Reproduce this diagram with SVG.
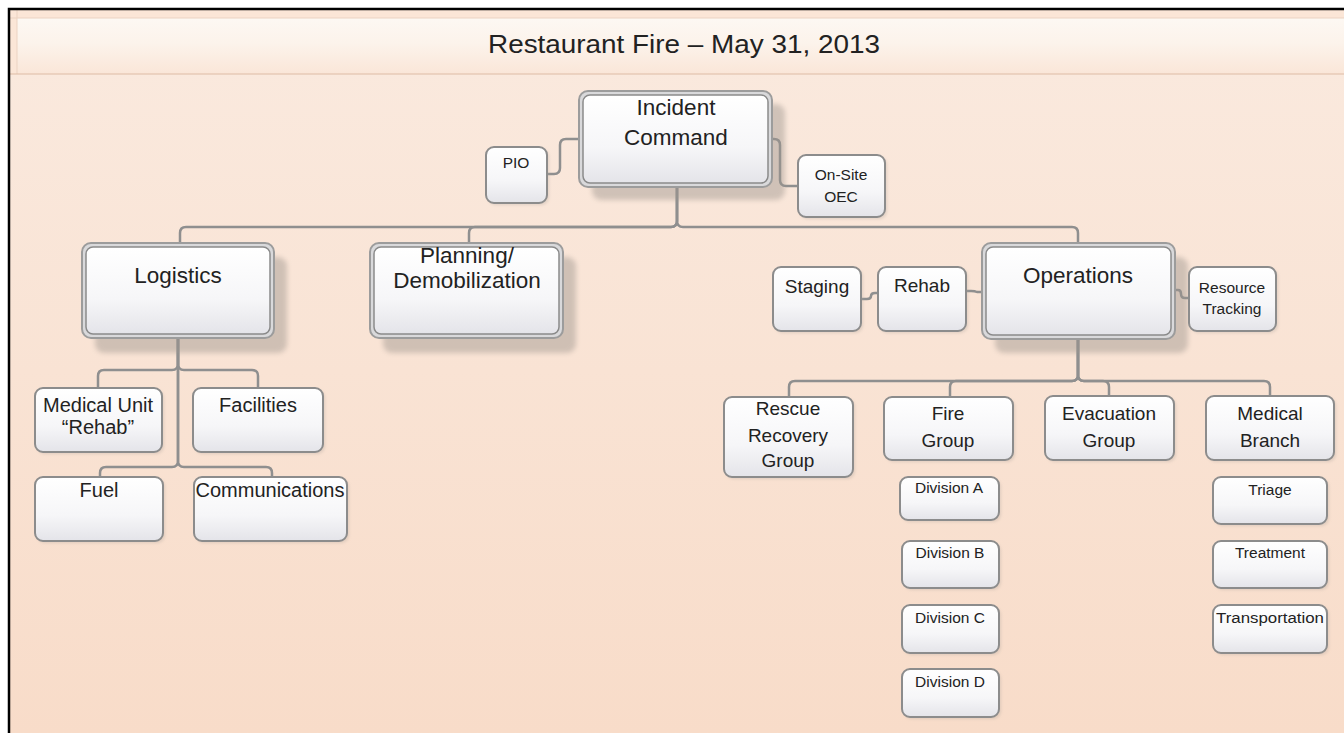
<svg xmlns="http://www.w3.org/2000/svg" width="1344" height="733" viewBox="0 0 1344 733">
<defs>
<linearGradient id="bg" x1="0" y1="0" x2="0" y2="1">
<stop offset="0" stop-color="#FAEADF"/>
<stop offset="1" stop-color="#F8DCC9"/>
</linearGradient>
<linearGradient id="band" x1="0" y1="0" x2="0" y2="1">
<stop offset="0" stop-color="#FDF8F3"/>
<stop offset="0.45" stop-color="#FCF3EB"/>
<stop offset="1" stop-color="#FAE6D8"/>
</linearGradient>
<linearGradient id="boxg" x1="0" y1="0" x2="0" y2="1">
<stop offset="0" stop-color="#FFFFFF"/>
<stop offset="0.6" stop-color="#F6F6F8"/>
<stop offset="1" stop-color="#E4E4E9"/>
</linearGradient>
<filter id="blur" x="-10%" y="-10%" width="120%" height="120%">
<feGaussianBlur stdDeviation="2.5"/>
</filter>
<filter id="sblur" x="-10%" y="-10%" width="120%" height="120%">
<feGaussianBlur stdDeviation="1.5"/>
</filter>
</defs>
<style>
.conn{fill:none;stroke:#8F8F8F;stroke-width:2.5;stroke-linejoin:round;stroke-linecap:round}
.box{fill:url(#boxg);stroke:#8C8C8C;stroke-width:2}
.outer{fill:#D9D9DB;stroke:#9C9C9C;stroke-width:2}
.inner{fill:url(#boxg);stroke:#8A8A8A;stroke-width:1.5}
.shadow{fill:#9E958E;opacity:0.45;filter:url(#blur)}
.sshadow{fill:#B0A59C;opacity:0.35;filter:url(#sblur)}
text{font-family:"Liberation Sans",Arial,sans-serif;fill:#222222;text-anchor:middle}
.big{font-size:22.5px}
.mid{font-size:19px}
.midl{font-size:20px}
.sm{font-size:15.5px}
.title{font-size:25px}
</style>

<!-- page background -->
<rect x="0" y="0" width="1344" height="733" fill="#FFFFFF"/>
<rect x="9" y="9" width="1335" height="724" fill="url(#bg)"/>
<!-- title band -->
<rect x="9" y="10" width="1335" height="64" fill="#FBE6D7"/>
<rect x="17" y="18" width="1327" height="56" fill="url(#band)"/>
<line x1="9" y1="18" x2="1344" y2="18" stroke="#EBD3C2" stroke-width="1"/>
<line x1="17" y1="10" x2="17" y2="74" stroke="#EBD3C2" stroke-width="1"/>
<line x1="9" y1="74" x2="1344" y2="74" stroke="#DDBCA6" stroke-width="1.2"/>
<text class="title" x="684" y="53" textLength="392" lengthAdjust="spacingAndGlyphs">Restaurant Fire – May 31, 2013</text>
<!-- frame -->
<path d="M9,733 V9 H1344" fill="none" stroke="#000000" stroke-width="2.5"/>

<g id="connectors">
<path class="conn" d="M677,187 V221 Q677,227 671,227 H186 Q180,227 180,233 V243"/>
<path class="conn" d="M677,187 V221 Q677,227 671,227 H475 Q469,227 469,233 V243"/>
<path class="conn" d="M677,187 V221 Q677,227 683,227 H1072 Q1078,227 1078,233 V243"/>
<path class="conn" d="M547,174 H554 Q560,174 560,168 V145 Q560,139 566,139 H579"/>
<path class="conn" d="M772,139 H774 Q780,139 780,145 V180 Q780,186 786,186 H798"/>
<path class="conn" d="M178,338 V364 Q178,370 172,370 H104 Q98,370 98,376 V388"/>
<path class="conn" d="M178,338 V364 Q178,370 184,370 H252 Q258,370 258,376 V388"/>
<path class="conn" d="M178,338 V461 Q178,467 172,467 H106 Q100,467 100,473 V477"/>
<path class="conn" d="M178,338 V461 Q178,467 184,467 H266 Q272,467 272,473 V477"/>
<path class="conn" d="M861,299 H867 Q871,299 871,296 Q871,293 875,293 H878"/>
<path class="conn" d="M966,291 H971 Q975,291 977,292 H982"/>
<path class="conn" d="M1175,290 H1178 Q1181,290 1181,294 Q1181,298 1185,298 H1189"/>
<path class="conn" d="M1078,339 V375 Q1078,381 1072,381 H795 Q789,381 789,387 V397"/>
<path class="conn" d="M1078,339 V375 Q1078,381 1072,381 H956 Q950,381 950,387 V397"/>
<path class="conn" d="M1078,339 V375 Q1078,381 1084,381 H1103 Q1109,381 1109,387 V396"/>
<path class="conn" d="M1078,339 V375 Q1078,381 1084,381 H1264 Q1270,381 1270,387 V396"/>
</g>

<g id="incident-command">
<rect class="shadow" x="592" y="104" width="193" height="96" rx="9"/>
<rect class="outer" x="579" y="91" width="193" height="96" rx="9"/>
<rect class="inner" x="583" y="95" width="185" height="88" rx="7"/>
<text class="big" x="676" y="115">Incident</text>
<text class="big" x="676" y="145">Command</text>
</g>

<g id="pio">
<rect class="sshadow" x="488" y="149" width="61" height="56" rx="8"/>
<rect class="box" x="486" y="147" width="61" height="56" rx="8"/>
<text class="sm" x="516" y="168">PIO</text>
</g>

<g id="onsite-oec">
<rect class="sshadow" x="800" y="157" width="87" height="62" rx="8"/>
<rect class="box" x="798" y="155" width="87" height="62" rx="8"/>
<text class="sm" x="841" y="180">On-Site</text>
<text class="sm" x="841" y="202">OEC</text>
</g>

<g id="logistics">
<rect class="shadow" x="95" y="257" width="192" height="96" rx="9"/>
<rect class="outer" x="82" y="243" width="192" height="95" rx="9"/>
<rect class="inner" x="86" y="247" width="184" height="87" rx="7"/>
<text class="big" x="178" y="283">Logistics</text>
</g>

<g id="planning">
<rect class="shadow" x="383" y="257" width="193" height="96" rx="9"/>
<rect class="outer" x="370" y="243" width="193" height="95" rx="9"/>
<rect class="inner" x="374" y="247" width="185" height="87" rx="7"/>
<text class="big" x="467" y="263">Planning/</text>
<text class="big" x="467" y="288">Demobilization</text>
</g>

<g id="operations">
<rect class="shadow" x="995" y="257" width="193" height="96" rx="9"/>
<rect class="outer" x="982" y="243" width="193" height="96" rx="9"/>
<rect class="inner" x="986" y="247" width="185" height="88" rx="7"/>
<text class="big" x="1078" y="283">Operations</text>
</g>

<g id="staging">
<rect class="sshadow" x="775" y="269" width="88" height="64" rx="8"/>
<rect class="box" x="773" y="267" width="88" height="64" rx="8"/>
<text class="mid" x="817" y="293">Staging</text>
</g>

<g id="rehab">
<rect class="sshadow" x="880" y="269" width="88" height="64" rx="8"/>
<rect class="box" x="878" y="267" width="88" height="64" rx="8"/>
<text class="mid" x="922" y="292">Rehab</text>
</g>

<g id="resource-tracking">
<rect class="sshadow" x="1191" y="269" width="87" height="64" rx="8"/>
<rect class="box" x="1189" y="267" width="87" height="64" rx="8"/>
<text class="sm" x="1232" y="293">Resource</text>
<text class="sm" x="1232" y="314">Tracking</text>
</g>

<g id="medical-unit">
<rect class="sshadow" x="37" y="390" width="127" height="64" rx="8"/>
<rect class="box" x="35" y="388" width="127" height="64" rx="8"/>
<text class="midl" x="98" y="412">Medical Unit</text>
<text class="midl" x="98" y="434">“Rehab”</text>
</g>

<g id="facilities">
<rect class="sshadow" x="195" y="390" width="130" height="64" rx="8"/>
<rect class="box" x="193" y="388" width="130" height="64" rx="8"/>
<text class="midl" x="258" y="412">Facilities</text>
</g>

<g id="fuel">
<rect class="sshadow" x="37" y="479" width="128" height="64" rx="8"/>
<rect class="box" x="35" y="477" width="128" height="64" rx="8"/>
<text class="midl" x="99" y="497">Fuel</text>
</g>

<g id="communications">
<rect class="sshadow" x="196" y="479" width="153" height="64" rx="8"/>
<rect class="box" x="194" y="477" width="153" height="64" rx="8"/>
<text class="midl" x="270" y="497">Communications</text>
</g>

<g id="rescue-recovery">
<rect class="sshadow" x="726" y="399" width="129" height="80" rx="8"/>
<rect class="box" x="724" y="397" width="129" height="80" rx="8"/>
<text class="mid" x="788" y="415">Rescue</text>
<text class="mid" x="788" y="442">Recovery</text>
<text class="mid" x="788" y="467">Group</text>
</g>

<g id="fire-group">
<rect class="sshadow" x="886" y="399" width="129" height="63" rx="8"/>
<rect class="box" x="884" y="397" width="129" height="63" rx="8"/>
<text class="mid" x="948" y="420">Fire</text>
<text class="mid" x="948" y="447">Group</text>
</g>

<g id="evacuation-group">
<rect class="sshadow" x="1047" y="398" width="129" height="64" rx="8"/>
<rect class="box" x="1045" y="396" width="129" height="64" rx="8"/>
<text class="mid" x="1109" y="420">Evacuation</text>
<text class="mid" x="1109" y="447">Group</text>
</g>

<g id="medical-branch">
<rect class="sshadow" x="1208" y="398" width="128" height="64" rx="8"/>
<rect class="box" x="1206" y="396" width="128" height="64" rx="8"/>
<text class="mid" x="1270" y="420">Medical</text>
<text class="mid" x="1270" y="447">Branch</text>
</g>

<g id="division-a">
<rect class="sshadow" x="902" y="479" width="99" height="43" rx="8"/>
<rect class="box" x="900" y="477" width="99" height="43" rx="8"/>
<text class="sm" x="949" y="493">Division A</text>
</g>

<g id="division-b">
<rect class="sshadow" x="904" y="543" width="97" height="47" rx="8"/>
<rect class="box" x="902" y="541" width="97" height="47" rx="8"/>
<text class="sm" x="950" y="558">Division B</text>
</g>

<g id="division-c">
<rect class="sshadow" x="904" y="607" width="97" height="48" rx="8"/>
<rect class="box" x="902" y="605" width="97" height="48" rx="8"/>
<text class="sm" x="950" y="623">Division C</text>
</g>

<g id="division-d">
<rect class="sshadow" x="904" y="671" width="97" height="48" rx="8"/>
<rect class="box" x="902" y="669" width="97" height="48" rx="8"/>
<text class="sm" x="950" y="687">Division D</text>
</g>

<g id="triage">
<rect class="sshadow" x="1215" y="479" width="114" height="47" rx="8"/>
<rect class="box" x="1213" y="477" width="114" height="47" rx="8"/>
<text class="sm" x="1270" y="495">Triage</text>
</g>

<g id="treatment">
<rect class="sshadow" x="1215" y="543" width="114" height="47" rx="8"/>
<rect class="box" x="1213" y="541" width="114" height="47" rx="8"/>
<text class="sm" x="1270" y="558">Treatment</text>
</g>

<g id="transportation">
<rect class="sshadow" x="1215" y="607" width="114" height="48" rx="8"/>
<rect class="box" x="1213" y="605" width="114" height="48" rx="8"/>
<text class="sm" x="1270" y="623" textLength="108" lengthAdjust="spacingAndGlyphs">Transportation</text>
</g>
</svg>
